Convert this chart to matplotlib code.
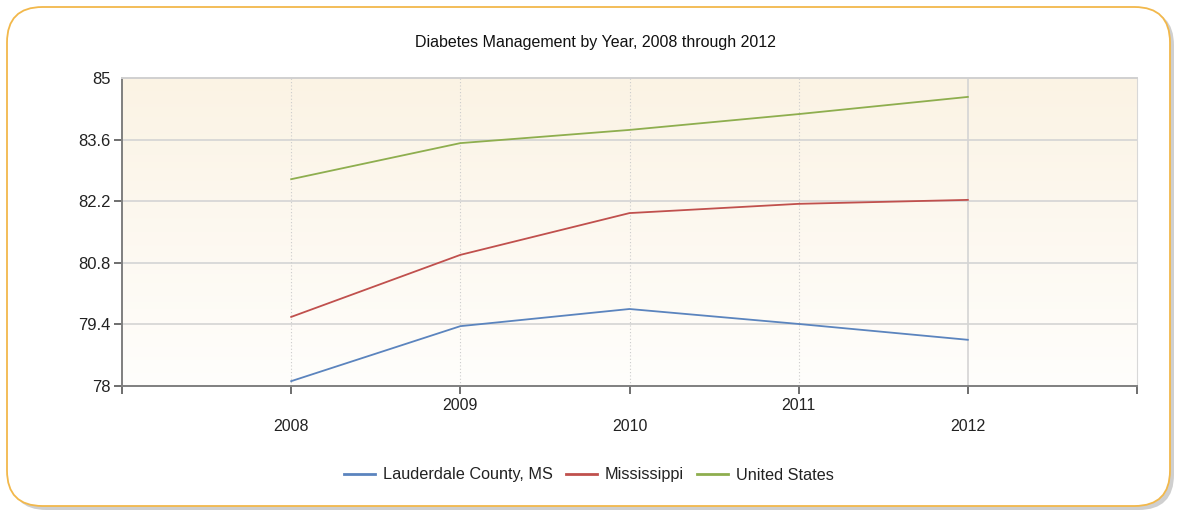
import numpy as np
import matplotlib
matplotlib.use("Agg")
import matplotlib.pyplot as plt
from matplotlib.patches import FancyBboxPatch

plt.rcParams['font.family'] = ['Liberation Sans', 'DejaVu Sans']

years = [2008, 2009, 2010, 2011, 2012]
lauderdale = [78.11, 79.36, 79.75, 79.41, 79.05]
mississippi = [79.57, 80.98, 81.93, 82.14, 82.23]
united_states = [82.70, 83.52, 83.82, 84.18, 84.57]
series_names = ["Lauderdale County, MS", "Mississippi", "United States"]
series_colors = ["#5B84BE", "#C0504D", "#8EAE4E"]
yticks = [78, 79.4, 80.8, 82.2, 83.6, 85]
ytick_labels = ["78", "79.4", "80.8", "82.2", "83.6", "85"]
title = "Diabetes Management by Year, 2008 through 2012"

W, H = 1182, 513
fig = plt.figure(figsize=(W / 100, H / 100), dpi=100)

# outer rounded frame with shadow
shadow = FancyBboxPatch((11 / W, 3 / H), 1163 / W, 500 / H,
                        boxstyle="round,pad=0,rounding_size=0.03",
                        transform=fig.transFigure, facecolor="#CFCFCF",
                        edgecolor="none", zorder=0, mutation_aspect=W / H)
fig.patches.append(shadow)
frame = FancyBboxPatch((7 / W, 7 / H), 1163 / W, 499 / H,
                       boxstyle="round,pad=0,rounding_size=0.03",
                       transform=fig.transFigure, facecolor="white",
                       edgecolor="#F2B84B", linewidth=1.3, zorder=1,
                       mutation_aspect=W / H)
fig.patches.append(frame)

left, right, top, bottom = 122, 1137, 78, 386
ax = fig.add_axes([left / W, 1 - bottom / H, (right - left) / W, (bottom - top) / H])
ax.set_zorder(2)
ax.patch.set_alpha(0)

# gradient background (top warm, bottom near-white)
top_c = np.array([251, 243, 228]) / 255
bot_c = np.array([255, 254, 252]) / 255
t = np.linspace(0, 1, 256)[:, None]
grad = top_c[None, :] * (1 - t) + bot_c[None, :] * t
grad = np.repeat(grad[:, None, :], 2, axis=1)
ax.imshow(grad, extent=[2007, 2013, 78, 85], aspect='auto', zorder=0, origin='upper')
ax.set_xlim(2007, 2013)
ax.set_ylim(78, 85)

# grid
for yv in yticks[1:-1]:
    ax.axhline(yv, color="#D4D4D4", lw=1.2, zorder=1)
for xv in years[:-1]:
    ax.axvline(xv, color="#CCCCCC", lw=0.8, ls=(0, (1, 2)), zorder=1)
ax.axvline(years[-1], color="#D4D4D4", lw=1.2, zorder=1)

for vals, name, col in zip([lauderdale, mississippi, united_states], series_names, series_colors):
    ax.plot(years, vals, color=col, lw=1.3, label=name, zorder=3)

ax.set_yticks(yticks)
ax.set_yticklabels(ytick_labels, fontsize=12, color="#222222")
ax.set_xticks(years)
ax.set_xticklabels([str(y) for y in years], fontsize=11.5, color="#222222")
ax.set_xticks([2007, 2013], minor=True)
ax.tick_params(axis='both', which='both', direction='out', length=6, width=1.2, color="#555555")
for i, tk in enumerate(ax.xaxis.get_major_ticks()):
    tk.set_pad(3 if i % 2 == 1 else 18)
ax.yaxis.get_major_ticks()[-1].tick1line.set_visible(False)
ax.tick_params(axis='y', pad=2)

for s in ['left', 'bottom']:
    ax.spines[s].set_color("#7F7F7F")
    ax.spines[s].set_linewidth(1.4)
ax.spines['top'].set_color("#D0D0D0")
ax.spines['top'].set_linewidth(1.4)
ax.spines['right'].set_color("#D8D8D8")
ax.spines['right'].set_linestyle((0, (1, 1)))

fig.text(595 / W, 1 - 42 / H, title, ha='center', va='center', fontsize=11.5, color="#111111")

leg = fig.legend(loc='center', bbox_to_anchor=(589 / W, 1 - 475 / H), ncol=3,
                 frameon=False, fontsize=11.7, handlelength=1.9, columnspacing=0.8,
                 handletextpad=0.5)
for txt in leg.get_texts():
    txt.set_color("#222222")
for ln in leg.get_lines():
    ln.set_linewidth(2)

fig.savefig("out.png", dpi=100)
